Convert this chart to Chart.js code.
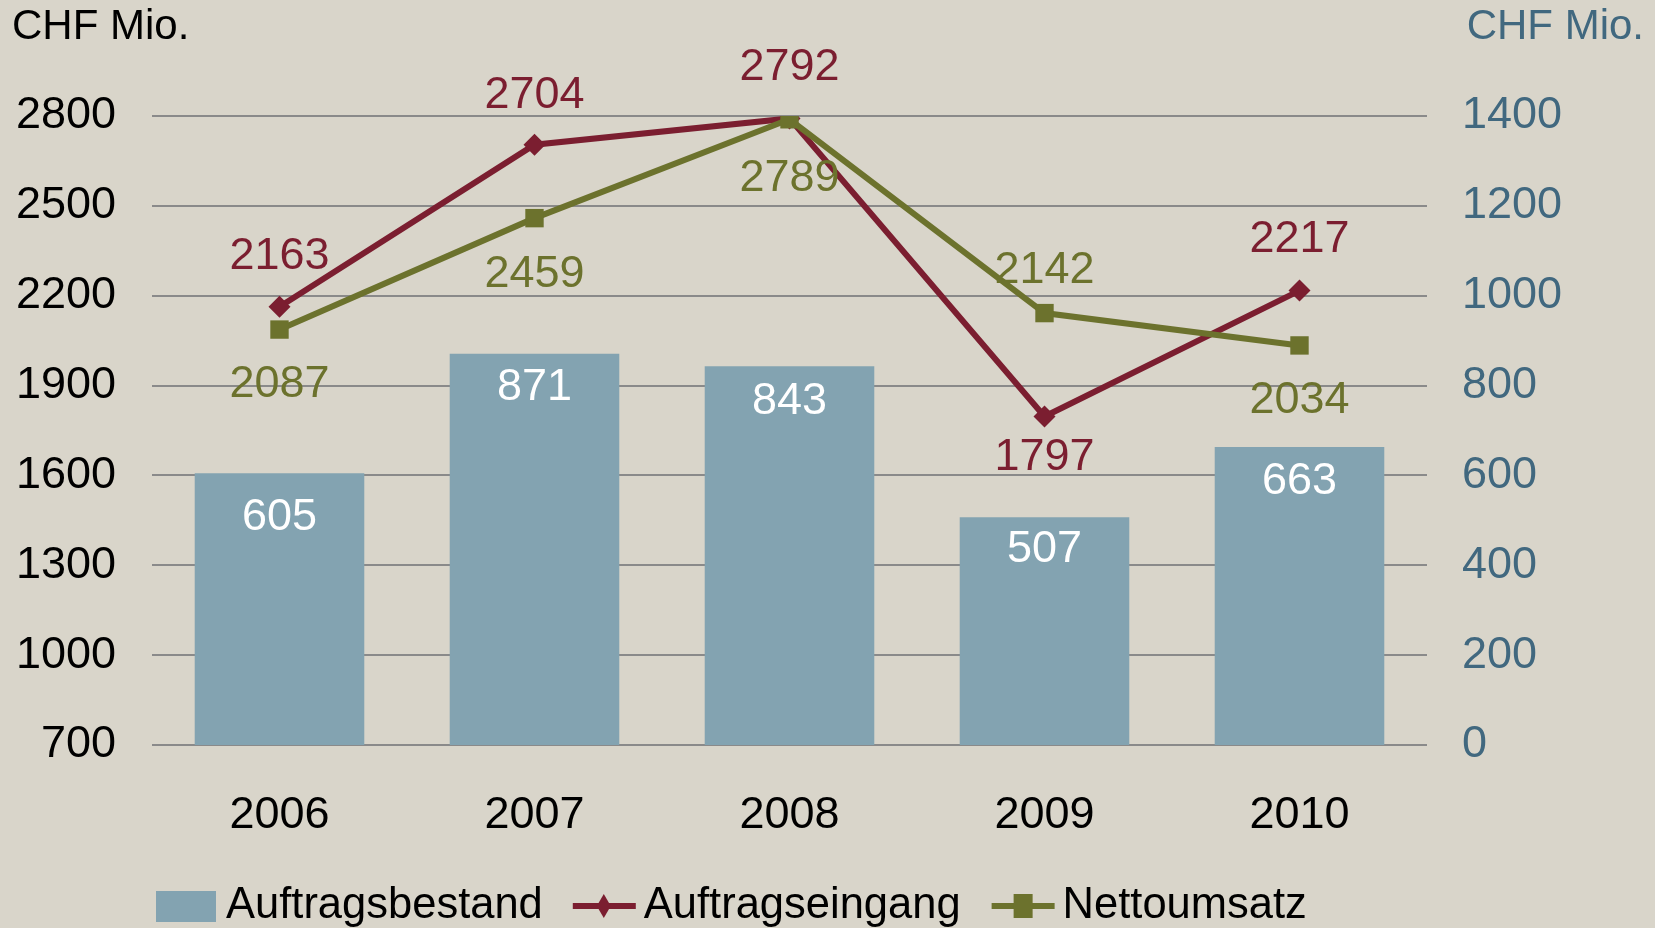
<!DOCTYPE html>
<html><head><meta charset="utf-8">
<script src="https://cdn.jsdelivr.net/npm/chart.js@4/dist/chart.umd.min.js"></script>
<style>
html,body{margin:0;padding:0;background:#D9D5CA;}
#wrap{position:relative;width:1655px;height:928px;}
canvas{display:block;}
</style></head>
<body><div id="wrap"><canvas id="c" width="1655" height="928"></canvas></div>
<script>
const categories = ['2006','2007','2008','2009','2010'];
const auftragsbestand = [605, 871, 843, 507, 663];
const auftragseingang = [2163, 2704, 2792, 1797, 2217];
const nettoumsatz = [2087, 2459, 2789, 2142, 2034];
const leftTicks = [700, 1000, 1300, 1600, 1900, 2200, 2500, 2800];
const rightTicks = [0, 200, 400, 600, 800, 1000, 1200, 1400];
const axisUnit = 'CHF Mio.';
// label placement (pixel offsets from the data point)
const barLabelOffset = [44, 34, 35, 32, 34];
const eingangLabelOffset = [-50, -49, -51, 41, -51];
const nettoLabelOffset = [55, 56, 59, -42, 55];

const FONT = 'Liberation Sans, Arial, sans-serif';
const BLUE = '#83A3B1', RED = '#7B1E30', GREEN = '#6C722D';
const RAXIS = '#41687F';

const labelsPlugin = {
  id: 'labelsPlugin',
  afterDatasetsDraw(chart) {
    const ctx = chart.ctx;
    ctx.save();
    ctx.font = '45px ' + FONT;
    ctx.textAlign = 'center';
    ctx.textBaseline = 'middle';
    chart.getDatasetMeta(0).data.forEach((el, i) => {
      ctx.fillStyle = '#FFFFFF';
      ctx.fillText(String(auftragsbestand[i]), el.x, el.y + barLabelOffset[i]);
    });
    chart.getDatasetMeta(1).data.forEach((el, i) => {
      ctx.fillStyle = RED;
      ctx.fillText(String(auftragseingang[i]), el.x, el.y + eingangLabelOffset[i]);
    });
    chart.getDatasetMeta(2).data.forEach((el, i) => {
      ctx.fillStyle = GREEN;
      ctx.fillText(String(nettoumsatz[i]), el.x, el.y + nettoLabelOffset[i]);
    });
    ctx.restore();
  },
  afterDraw(chart) {
    const ctx = chart.ctx;
    ctx.save();
    ctx.font = '42px ' + FONT;
    ctx.textBaseline = 'middle';
    ctx.textAlign = 'left';
    ctx.fillStyle = '#000000';
    ctx.fillText(axisUnit, 12, 27);
    ctx.fillStyle = RAXIS;
    ctx.textAlign = 'right';
    ctx.fillText(axisUnit, 1644, 27);
    // legend
    ctx.font = '43.5px ' + FONT;
    ctx.textAlign = 'left';
    const ly = 906;
    let x = 156;
    ctx.fillStyle = BLUE;
    ctx.fillRect(x, ly - 15, 60, 31);
    x += 70;
    ctx.fillStyle = '#000';
    ctx.fillText('Auftragsbestand', x, ly);
    x += ctx.measureText('Auftragsbestand').width + 30;
    ctx.strokeStyle = RED; ctx.lineWidth = 6;
    ctx.beginPath(); ctx.moveTo(x, ly); ctx.lineTo(x + 63, ly); ctx.stroke();
    ctx.fillStyle = RED;
    ctx.beginPath(); ctx.moveTo(x + 31, ly - 12); ctx.lineTo(x + 38, ly); ctx.lineTo(x + 31, ly + 12); ctx.lineTo(x + 24, ly); ctx.closePath(); ctx.fill();
    x += 71;
    ctx.fillStyle = '#000';
    ctx.fillText('Auftragseingang', x, ly);
    x += ctx.measureText('Auftragseingang').width + 31;
    ctx.strokeStyle = GREEN;
    ctx.beginPath(); ctx.moveTo(x, ly); ctx.lineTo(x + 63, ly); ctx.stroke();
    ctx.fillStyle = GREEN;
    ctx.fillRect(x + 22, ly - 12, 19, 24);
    x += 71;
    ctx.fillStyle = '#000';
    ctx.fillText('Nettoumsatz', x, ly);
    ctx.restore();
  }
};

new Chart(document.getElementById('c'), {
  data: {
    labels: categories,
    datasets: [
      { type: 'bar', label: 'Auftragsbestand', data: auftragsbestand, yAxisID: 'y1',
        backgroundColor: BLUE, borderWidth: 0, categoryPercentage: 0.665, barPercentage: 1, order: 3 },
      { type: 'line', label: 'Auftragseingang', data: auftragseingang, yAxisID: 'y',
        borderColor: RED, backgroundColor: RED, borderWidth: 6, pointStyle: 'rectRot',
        pointRadius: 11, pointBorderWidth: 0, tension: 0, order: 2 },
      { type: 'line', label: 'Nettoumsatz', data: nettoumsatz, yAxisID: 'y',
        borderColor: GREEN, backgroundColor: GREEN, borderWidth: 6, pointStyle: 'rect',
        pointRadius: 13, pointBorderWidth: 0, tension: 0, order: 1 }
    ]
  },
  options: {
    responsive: false,
    animation: false,
    layout: { padding: { top: 116, bottom: 0, left: 0, right: 0 } },
    plugins: { legend: { display: false }, tooltip: { enabled: false } },
    scales: {
      x: {
        grid: { display: false, drawTicks: false },
        border: { display: false },
        ticks: { color: '#000', font: { family: FONT, size: 45 }, padding: 44 },
        afterFit(s) { s.height = 183; }
      },
      y: {
        position: 'left', min: 700, max: 2800,
        afterBuildTicks(s) { s.ticks = leftTicks.map(v => ({ value: v })); },
        grid: { color: '#8A8A8A', lineWidth: 2, drawTicks: false },
        border: { display: false },
        ticks: { color: '#000', font: { family: FONT, size: 45 }, padding: 36, callback: v => String(v) },
        afterFit(s) { s.width = 152; }
      },
      y1: {
        position: 'right', min: 0, max: 1400,
        afterBuildTicks(s) { s.ticks = rightTicks.map(v => ({ value: v })); },
        grid: { display: false, drawTicks: false },
        border: { display: false },
        ticks: { color: RAXIS, font: { family: FONT, size: 45 }, padding: 35, callback: v => String(v) },
        afterFit(s) { s.width = 228; }
      }
    }
  },
  plugins: [labelsPlugin]
});
</script>
</body></html>
